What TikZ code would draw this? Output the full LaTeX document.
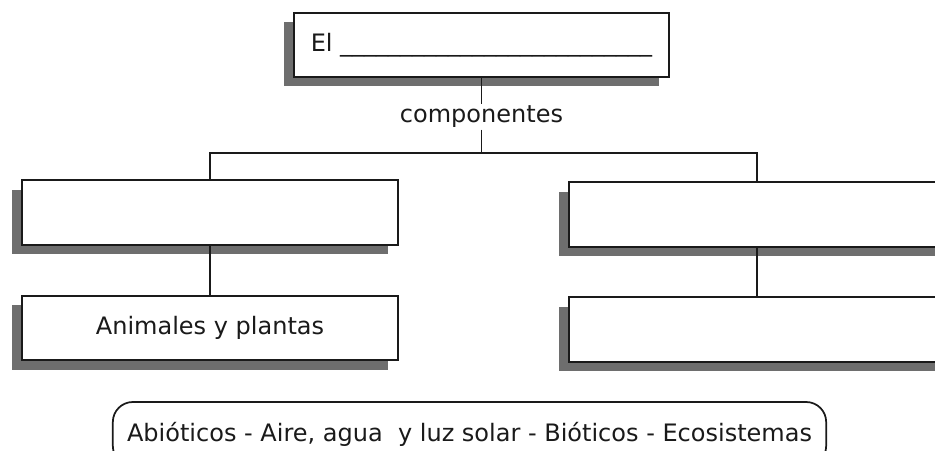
\documentclass[tikz,border=0pt]{standalone}
\usepackage{fontspec}
\setmainfont{DejaVu Sans}
\usetikzlibrary{positioning, shadows}
\definecolor{ShadowGray}{HTML}{6E6E6E}
\definecolor{InkBlack}{HTML}{1A1A1A}

\begin{document}
\begin{tikzpicture}[x=0.75pt, y=-0.75pt,
    conceptbox/.style={draw=InkBlack, line width=1.5pt, fill=white,
        minimum width=282pt, minimum height=48.5pt, inner sep=0pt,
        drop shadow={shadow xshift=-7.5pt, shadow yshift=-7pt,
                     fill=ShadowGray, opacity=1}},
    link/.style={draw=InkBlack, line width=1.3pt},
    every node/.style={font=\fontsize{18}{21}\selectfont, text=InkBlack}]
\useasboundingbox (0,0) rectangle (935,450);

% main concept
\node[conceptbox, minimum width=281pt, minimum height=48pt] (eco) at (481.5,45)
    {El \_\_\_\_\_\_\_\_\_\_\_\_\_\_\_\_\_\_\_\_\_\_\_\_\_\_};
\node[inner sep=1pt] (comp) at (481.5,117) {componentes};
\coordinate (fork) at (481.5,153);

% two branches
\node[conceptbox] (left) at (210,212.5) {};
\node[conceptbox] (right) at (757,214.5) {};
\node[conceptbox] (animales) at (210,328) {Animales y plantas};
\node[conceptbox] (rightlow) at (757,329.5) {};

\draw[link] (eco.south) -- (comp.north);
\draw[link] (comp.south) -- (fork);
\draw[link] (left.north) |- (fork) -| (right.north);
\draw[link] (left.south) -- (animales.north);
\draw[link] (right.south) -- (rightlow.north);

% word bank
\node[draw=InkBlack, line width=1.3pt, rounded corners=15pt,
      minimum width=535pt, minimum height=48pt, inner sep=0pt] (bank) at (469.5,434)
    {Abióticos - Aire, agua\ \ y luz solar - Bióticos - Ecosistemas};
\end{tikzpicture}
\end{document}
